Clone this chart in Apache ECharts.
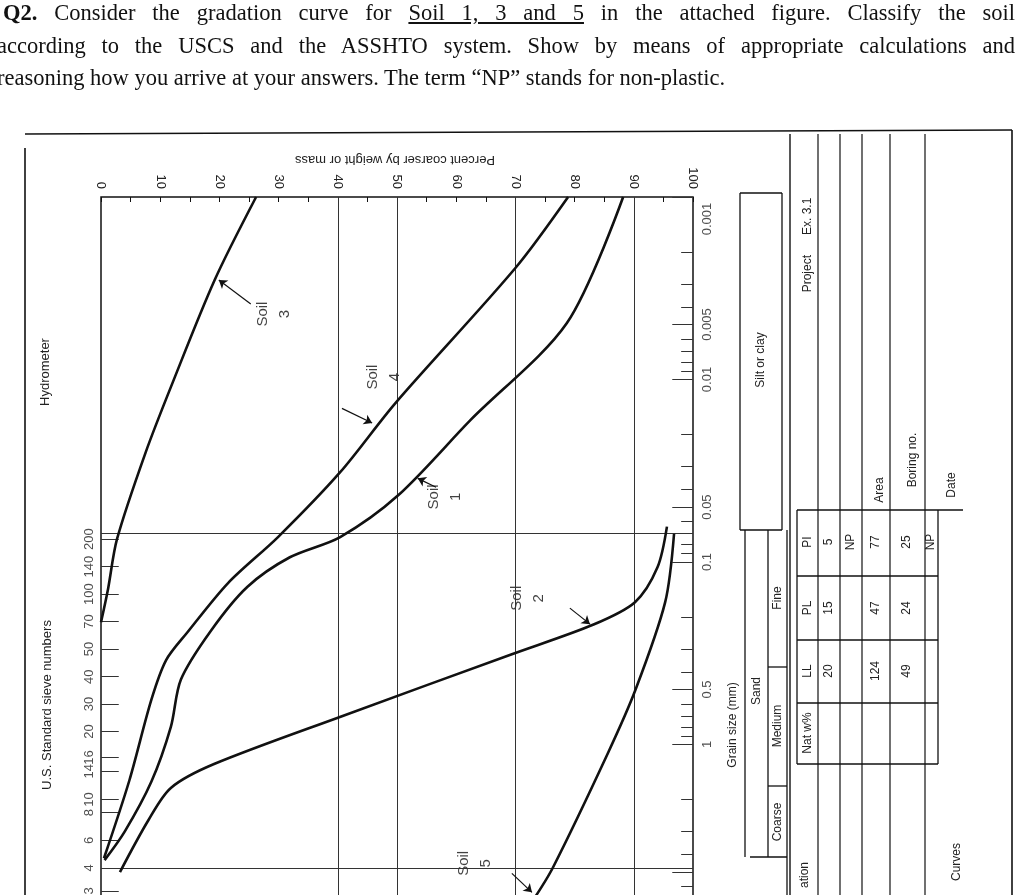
<!DOCTYPE html>
<html>
<head>
<meta charset="utf-8">
<script src="https://cdn.jsdelivr.net/npm/echarts@6/dist/echarts.min.js"></script>
<style>
  html, body { margin: 0; padding: 0; background: #fff; overflow: hidden; width: 1024px; height: 895px; }
  .q { position: absolute; left: 3px; width: 1012px; font-family: "Liberation Serif", serif; font-size: 22.5px; color: #111; white-space: nowrap; }
  .j { text-align: justify; text-align-last: justify; white-space: normal; }
  #chart { position: absolute; left: 0; top: 0; width: 1024px; height: 960px; }
</style>
</head>
<body>
<div id="chart"></div>
<div class="q j" style="top:0px"><b>Q2.</b> Consider the gradation curve for <u>Soil 1, 3 and 5</u> in the attached figure. Classify the soil</div>
<div class="q j" style="top:33px;left:-3px;width:1018px">according to the USCS and the ASSHTO system. Show by means of appropriate calculations and</div>
<div class="q" style="top:65px;left:-3px">reasoning how you arrive at your answers. The term “NP” stands for non-plastic.</div>
<script>
// curves: [percent, grain size mm]
var soil1 = [[88.2,0.001],[78.7,0.0049],[62.4,0.0167],[50.2,0.0431],[40.4,0.073],[31.9,0.0942],[24.7,0.137],[18.6,0.237],[13.5,0.44],[11.8,0.8],[8.5,1.6],[4,3.0],[0.6,4.3]];
var soil2 = [[95.6,0.064],[94,0.107],[90.2,0.166],[83.2,0.22],[69.4,0.32],[40.7,0.70],[19.1,1.28],[11.8,1.73],[8,2.6],[3.2,5.0]];
var soil3 = [[26.2,0.001],[19.2,0.00285],[12,0.0106],[7.5,0.0253],[2.7,0.075],[1.2,0.14],[0,0.214]];
var soil4 = [[78.9,0.001],[70,0.00245],[49.7,0.0135],[40.4,0.0322],[29.9,0.073],[21.5,0.13],[14.5,0.245],[11,0.345],[8.5,0.57],[4.8,1.57],[0.5,4.2]];
var soil5 = [[96.8,0.07],[95.3,0.166],[90.3,0.5],[85.6,1.12],[76.3,4.75],[72.9,7.2]];

var sieveNames = ['3','4','6','8','10','14','16','20','30','40','50','70','100','140','200'];
var sieveSizes = [6.35,4.75,3.35,2.36,2.0,1.4,1.18,0.85,0.6,0.425,0.3,0.212,0.15,0.106,0.075];
var grainLabels = ['0.001','0.005','0.01','0.05','0.1','0.5','1'];
var grainValues = [0.001,0.005,0.01,0.05,0.1,0.5,1];
var gridPercents = [40,50,70,90];

// soil name labels and arrows: [percent, size]
var soilLabels = [['Soil\n3',29.2,0.00438],['Soil\n4',47.8,0.0097],['Soil\n1',58.1,0.044],['Soil\n2',72.1,0.158],['Soil\n5',63.2,4.48]];
var soilArrows = [[[25.3,0.00386],[19.9,0.00285]],[[40.7,0.0144],[45.8,0.0173]],[[56.6,0.0389],[53.5,0.0348]],[[79.2,0.179],[82.6,0.219]],[[69.4,5.08],[72.8,6.46]]];

var FONT = '"Liberation Sans", Arial, sans-serif';
var chart = echarts.init(document.getElementById('chart'));

function curve(name, data) {
    return { name: name, type: 'line', data: data, smooth: 0.3, symbol: 'none',
        lineStyle: { color: '#111', width: 2.6 }, z: 5 };
}

// short ticks along left (sieves) and right (grain size)
var tickLines = [];
sieveSizes.forEach(function (s) {
    tickLines.push([{ coord: [0, s] }, { coord: [3, s] }]);
});
[0.001, 0.01, 0.1, 1].forEach(function (dec) {
    for (var k = 1; k < 10; k++) {
        var v = dec * k;
        var len = (k == 1 || k == 5) ? 3.5 : 2;
        tickLines.push([{ coord: [100 - len, v] }, { coord: [100, v] }]);
    }
});

var gridMarks = gridPercents.map(function (p) { return { xAxis: p }; });
gridMarks.push({ yAxis: 0.075 }, { yAxis: 4.75 });

var option = {
    animation: false,
    grid: { left: 101, right: 331, top: 197, bottom: 33, show: true, borderColor: '#111', borderWidth: 1.5 },
    xAxis: {
        type: 'value', position: 'top', min: 0, max: 100, interval: 5,
        axisLine: { show: false },
        axisTick: { inside: true, length: 5, lineStyle: { color: '#111' } },
        axisLabel: { rotate: 90, margin: 8, color: '#222', fontFamily: FONT, fontSize: 13,
            formatter: function (v) { return v % 10 == 0 ? String(v) : ''; } },
        splitLine: { show: false }
    },
    yAxis: {
        type: 'log', logBase: 10, min: 0.001, max: 10, inverse: true,
        axisLine: { show: false }, axisTick: { show: false }, axisLabel: { show: false },
        splitLine: { show: false }, minorSplitLine: { show: false }
    },
    series: [
        curve('Soil 1', soil1), curve('Soil 2', soil2), curve('Soil 3', soil3),
        curve('Soil 4', soil4), curve('Soil 5', soil5),
        {
            type: 'line', data: [], silent: true,
            markLine: { symbol: 'none', silent: true, label: { show: false },
                lineStyle: { color: '#333', width: 1, type: 'solid' }, data: gridMarks.concat(tickLines) }
        },
        {
            type: 'scatter', symbolSize: 0, silent: true,
            data: sieveSizes.map(function (s, i) { return [0, s, sieveNames[i]]; }),
            label: { show: true, position: 'inside', offset: [0, -12], rotate: 90, color: '#222',
                fontFamily: FONT, fontSize: 13, formatter: function (p) { return p.value[2]; } }
        },
        {
            type: 'scatter', symbolSize: 0, silent: true,
            data: grainValues.map(function (s, i) {
                return { value: [100, s, grainLabels[i]], label: { offset: i == 0 ? [-22, 14] : [0, 14] } };
            }),
            label: { show: true, position: 'inside', rotate: 90, color: '#222',
                fontFamily: FONT, fontSize: 13,
                formatter: function (p) { return p.value[2]; } }
        },
        {
            type: 'scatter', symbolSize: 0, silent: true,
            data: soilLabels.map(function (s) { return [s[1], s[2], s[0]]; }),
            label: { show: true, position: 'inside', rotate: 90, color: '#111', lineHeight: 22,
                fontFamily: FONT, fontSize: 15, formatter: function (p) { return p.value[2]; } }
        },
        {
            type: 'line', data: [], silent: true,
            markLine: { symbol: ['none', 'arrow'], symbolSize: 8, silent: true, label: { show: false },
                lineStyle: { color: '#111', width: 1.2, type: 'solid' },
                data: soilArrows.map(function (a) { return [{ coord: a[0] }, { coord: a[1] }]; }) }
        }
    ],
    graphic: []
};

// frame, axis titles and the data panel on the right
var g = [];
function ln(x1, y1, x2, y2, w) {
    g.push({ type: 'line', shape: { x1: x1, y1: y1, x2: x2, y2: y2 }, style: { stroke: '#111', lineWidth: w || 1.3 }, silent: true });
}
function tx(x, y, t, size, rot) {
    g.push({ type: 'text', x: x, y: y, rotation: rot === undefined ? Math.PI / 2 : rot, silent: true,
        style: { text: t, fill: '#222', font: (size || 13) + 'px ' + FONT, textAlign: 'center', textVerticalAlign: 'middle' } });
}
ln(25, 134, 1012, 130, 1.6);
ln(25, 148, 25, 895, 1.6);
ln(1012, 130, 1012, 895, 1.6);
tx(395, 160, 'Percent coarser by weight or mass', 13, Math.PI);
tx(45, 372, 'Hydrometer', 13);
tx(47, 705, 'U.S. Standard sieve numbers', 13);
tx(733, 725, 'Grain size (mm)', 12);
// soil type boxes
ln(740, 193, 782, 193); ln(740, 193, 740, 530); ln(782, 193, 782, 530); ln(740, 530, 782, 530);
tx(761, 360, 'Silt or clay', 12);
ln(745, 530, 745, 857); ln(787, 530, 787, 895);
ln(768, 530, 768, 857); ln(768, 667, 787, 667); ln(768, 786, 787, 786); ln(750, 857, 787, 857);
tx(757, 691, 'Sand', 12); tx(778, 598, 'Fine', 12); tx(778, 726, 'Medium', 12); tx(778, 822, 'Coarse', 12);
// info panel
ln(790, 134, 790, 895, 1.4);
[818, 840, 862, 890, 925].forEach(function (x) { ln(x, 134, x, 895, 1.2); });
ln(797, 510, 963, 510);
ln(797, 510, 797, 764); ln(938, 510, 938, 764);
[576, 640, 703, 764].forEach(function (y) { ln(797, y, 938, y); });
tx(808, 245, 'Project      Ex. 3.1', 12);
tx(880, 490, 'Area', 12); tx(913, 460, 'Boring no.', 12); tx(952, 485, 'Date', 12);
tx(957, 862, 'Curves', 12); tx(805, 875, 'ation', 12);
var heads = ['PI', 'PL', 'LL', 'Nat w%'], headY = [542, 608, 671, 733];
heads.forEach(function (h, i) { tx(808, headY[i], h, 12); });
var cells = [['5', '15', '20'], ['NP', '', ''], ['77', '47', '124'], ['25', '24', '49'], ['NP', '', '']];
var rowX = [829, 851, 876, 907, 931];
cells.forEach(function (r, i) { r.forEach(function (c, j) { if (c) tx(rowX[i], headY[j], c, 12); }); });
option.graphic = g;

chart.setOption(option);
</script>
</body>
</html>
